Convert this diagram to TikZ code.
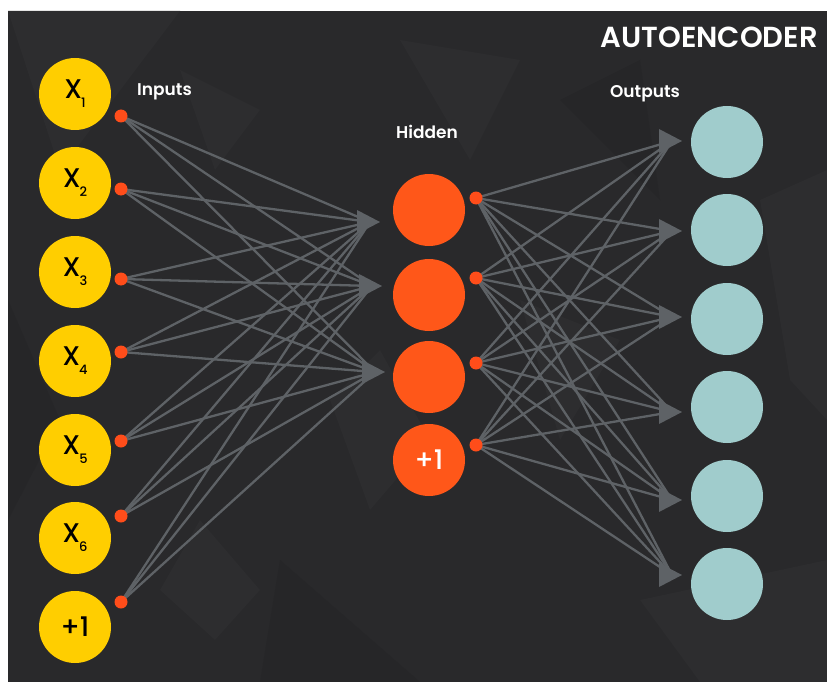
\documentclass[tikz,border=0pt]{standalone}
\usepackage{fontspec}
\setmainfont{Poppins}
\newfontfamily\medfont{Poppins Medium}
\newfontfamily\semifont{Poppins SemiBold}
\usetikzlibrary{arrows.meta}
\definecolor{bgdark}{HTML}{29292B}
\definecolor{bgpatch}{HTML}{2D2D2F}
\definecolor{bgpatchb}{HTML}{262628}
\definecolor{inyellow}{HTML}{FFCE00}
\definecolor{hidorange}{HTML}{FF5719}
\definecolor{outteal}{HTML}{A0CCCC}
\definecolor{dotred}{HTML}{FF4D1A}
\definecolor{edgegray}{HTML}{5E6266}
\tikzset{
  neuron/.style={circle, minimum size=72pt, inner sep=0pt, draw=none},
  inneuron/.style={neuron, fill=inyellow, text=black},
  hidneuron/.style={neuron, fill=hidorange, text=white},
  outneuron/.style={neuron, fill=outteal},
  outdot/.style={circle, fill=dotred, minimum size=13pt, inner sep=0pt},
  synapse/.style={draw=edgegray, line width=2.3pt},
  tiphead/.style={fill=edgegray, draw=none},
  layerlabel/.style={text=white, font=\fontsize{17}{19}\semifont, inner sep=0pt},
  neuronlabel/.style={font=\fontsize{27}{30}\medfont}
}
\newcommand{\xsub}[1]{X\kern-1pt\raisebox{-0.6ex}{\fontsize{13}{14}\medfont #1}}
% arrowhead: a single triangle whose point is at the named coordinate
\newcommand{\tipat}[1]{\fill[tiphead] (#1) -- ([xshift=-23pt,yshift=-12pt]#1) -- ([xshift=-23pt,yshift=12pt]#1) -- cycle;}
\begin{document}
\begin{tikzpicture}[x=1pt, y=-1pt]
\useasboundingbox (0,0) rectangle (827,682);
% page and dark panel
\fill[white] (0,0) rectangle (827,682);
\fill[bgdark] (8,11) rectangle (827,682);
% faint facets in the panel
\begin{scope}
\clip (8,11) rectangle (827,682);
\fill[bgpatch] (8,11) -- (180,11) -- (60,170) -- cycle;
\fill[bgpatch] (400,40) -- (520,60) -- (470,160) -- cycle;
\fill[bgpatch] (180,70) -- (260,110) -- (215,170) -- cycle;
\fill[bgpatch] (330,400) -- (380,350) -- (430,440) -- (370,510) -- cycle;
\fill[bgpatch] (200,520) -- (260,590) -- (215,640) -- (160,590) -- cycle;
\fill[bgpatch] (520,300) -- (620,340) -- (560,440) -- cycle;
\fill[bgpatch] (640,600) -- (827,560) -- (827,682) -- (700,682) -- cycle;
\fill[bgpatchb] (8,300) -- (60,420) -- (8,520) -- cycle;
\fill[bgpatchb] (280,560) -- (420,682) -- (260,682) -- cycle;
\fill[bgpatchb] (560,100) -- (640,60) -- (660,200) -- cycle;
\fill[bgpatch] (760,200) -- (827,170) -- (827,420) -- (790,380) -- cycle;
\end{scope}

% input layer
\foreach \i/\y/\d/\lbl in {1/94/116/\xsub{1}, 2/183/189/\xsub{2}, 3/272/279/\xsub{3},
    4/361/352/\xsub{4}, 5/450/441/\xsub{5}, 6/538/516/\xsub{6}, 7/627/602/{+1}} {
  \node[inneuron, neuronlabel] (in\i) at (75,\y) {\lbl};
  \coordinate (ind\i) at (121,\d);
}
% hidden layer
\foreach \i/\y/\d in {1/210/198, 2/295/278, 3/377/363, 4/460/445} {
  \coordinate (hd\i) at (476,\d);
}
\node[hidneuron] (h1) at (429,210) {};
\node[hidneuron] (h2) at (429,295) {};
\node[hidneuron] (h3) at (429,377) {};
\node[hidneuron, neuronlabel] (h4) at (429,460) {+1};
\coordinate (ht1) at (380,222);
\coordinate (ht2) at (382,286);
\coordinate (ht3) at (385,372);
% output layer
\foreach \i/\y/\t in {1/142/141, 2/230/231, 3/319/317, 4/407/412, 5/496/500, 6/584/575} {
  \node[outneuron] (o\i) at (727,\y) {};
  \coordinate (ot\i) at (682,\t);
}

% connections input -> hidden
\foreach \i in {1,...,7} {
  \foreach \j in {1,2,3} {
    \draw[synapse] (ind\i) -- ([xshift=-10pt]ht\j);
  }
}
\foreach \j in {1,2,3} { \tipat{ht\j} }
% connections hidden -> output
\foreach \i in {1,...,4} {
  \foreach \j in {1,...,6} {
    \draw[synapse] (hd\i) -- ([xshift=-10pt]ot\j);
  }
}
\foreach \j in {1,...,6} { \tipat{ot\j} }
% output dots of the units
\foreach \i in {1,...,7} { \node[outdot] at (ind\i) {}; }
\foreach \i in {1,...,4} { \node[outdot] at (hd\i) {}; }

% labels
\node[layerlabel, anchor=base west] (linputs) at (137,96) {Inputs};
\node[layerlabel, anchor=base] (lhidden) at (427,139) {Hidden};
\node[layerlabel, anchor=base] (loutputs) at (645,98) {Outputs};
\node[text=white, font=\fontsize{29}{31}\semifont, inner sep=0pt, anchor=base east] (title) at (818,48) {AUTOENCODER};
\end{tikzpicture}
\end{document}
